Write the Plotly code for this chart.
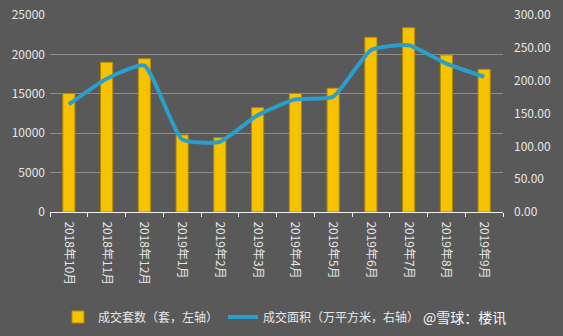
import plotly.graph_objects as go

months = ["2018年10月", "2018年11月", "2018年12月", "2019年1月", "2019年2月", "2019年3月",
          "2019年4月", "2019年5月", "2019年6月", "2019年7月", "2019年8月", "2019年9月"]
units_sold = [15050, 19000, 19450, 9770, 9430, 13240, 15050, 15700, 22170, 23390, 19920, 18100]
area_sold = [164.0, 203.0, 223.0, 110.5, 107.0, 147.5, 171.5, 175.5, 246.5, 254.0, 226.0, 206.0]

bg = "#595959"
txt = "#e6e6e6"
cjk = "Noto Sans CJK SC"

fig = go.Figure()
fig.add_trace(go.Bar(
    x=months, y=units_sold, name="成交套数（套，左轴）",
    marker=dict(color="#f7c200", line=dict(color="#b58c00", width=1)),
    yaxis="y",
))
fig.add_trace(go.Scatter(
    x=months, y=area_sold, name="成交面积（万平方米，右轴）",
    mode="lines", line=dict(color="#2a9fcc", width=4, shape="spline", smoothing=0.5),
    yaxis="y2",
))

fig.update_layout(
    width=563, height=336,
    margin=dict(l=50, r=60, t=15, b=124, autoexpand=False),
    paper_bgcolor=bg, plot_bgcolor=bg,
    font=dict(family=cjk, color=txt, size=12),
    bargap=0.68,
    showlegend=True,
    legend=dict(orientation="h", x=58 / 563, xanchor="left", xref="container",
                y=19 / 336, yanchor="middle", yref="container",
                font=dict(size=12, color=txt), bgcolor="rgba(0,0,0,0)"),
    xaxis=dict(
        tickangle=90, showgrid=False, showline=True, linecolor="#f0f0f0", linewidth=1,
        ticks="outside", ticklen=4, tickcolor="#f0f0f0", tickson="boundaries",
        tickfont=dict(size=12, color=txt), automargin=False, ticklabelstandoff=6,
    ),
    yaxis=dict(
        range=[0, 25000], dtick=5000, tickformat="d", showgrid=True,
        gridcolor="#8c8c8c", gridwidth=1, zeroline=False, showline=False,
        tickfont=dict(size=12, color=txt), automargin=False, ticklabelstandoff=4,
    ),
    yaxis2=dict(
        range=[0, 300], dtick=50, tickformat=".2f", overlaying="y", side="right",
        showgrid=False, zeroline=False, showline=False,
        tickfont=dict(size=12, color=txt), automargin=False, ticklabelstandoff=10,
    ),
)

# site watermark at the end of the legend row
fig.add_annotation(
    text="@雪球：楼讯", xref="paper", yref="paper", x=1.012, y=-0.535,
    xanchor="right", yanchor="middle", showarrow=False,
    font=dict(family=cjk, size=14, color="#f4f4f4"),
)

fig.write_html("out.html")
